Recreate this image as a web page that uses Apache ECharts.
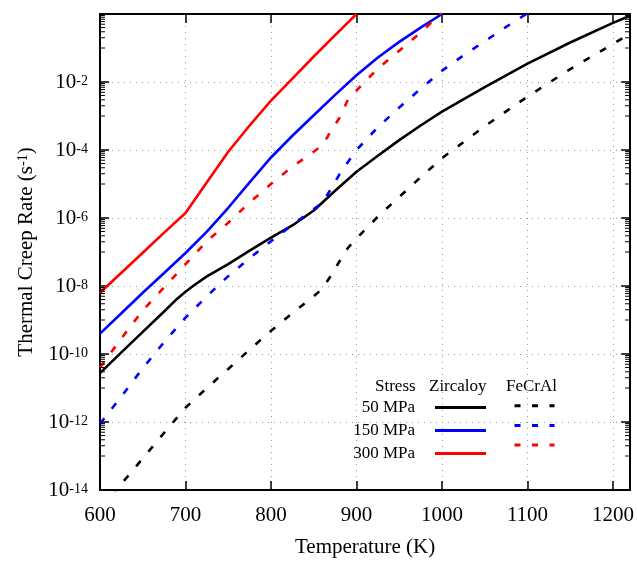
<!DOCTYPE html>
<html>
<head>
<meta charset="utf-8">
<script src="https://cdn.jsdelivr.net/npm/echarts@6/dist/echarts.min.js"></script>
<style>
html,body{margin:0;padding:0;background:#fff;}
#chart{width:637px;height:564px;}
</style>
</head>
<body>
<div id="chart"></div>
<script>
// ---------- data (Temperature in K, creep rate in 1/s) ----------
const tZr50 = [600,625,650,675,690,700,710,725,750,775,800,825,850,875,900,925,950,975,1000,1050,1100,1150,1200,1220];
const rZr50 = [2.75e-11,1.12e-10,4.47e-10,1.78e-9,4.17e-9,6.76e-9,1.05e-8,1.91e-8,4.4e-8,1.1e-7,2.63e-7,6.03e-7,1.66e-6,6.31e-6,2.29e-5,6.76e-5,1.95e-4,5.25e-4,1.35e-3,7.08e-3,3.47e-2,0.145,0.55,0.89];

const tZr150 = [600,625,650,675,700,725,750,775,800,825,850,875,900,925,950,975,1000];
const rZr150 = [3.98e-10,1.58e-9,6.31e-9,2.4e-8,9.33e-8,3.98e-7,2.0e-6,1.12e-5,6.03e-5,2.63e-4,1.05e-3,4.17e-3,1.58e-2,5.25e-2,0.151,0.398,1.0];

const tZr300 = [600,625,650,675,700,725,750,775,800,825,850,875,900];
const rZr300 = [6.31e-9,2.45e-8,9.55e-8,3.72e-7,1.41e-6,1.12e-5,8.91e-5,5.25e-4,2.82e-3,1.26e-2,5.62e-2,0.24,1.0];

const tFe50 = [600,625,650,675,700,725,750,775,800,825,850,860,870,880,890,900,925,950,975,1000,1050,1100,1150,1200,1220];
const rFe50 = [2.51e-15,1.51e-14,8.51e-14,4.79e-13,2.63e-12,1.0e-11,3.63e-11,1.35e-10,4.79e-10,1.58e-9,5.01e-9,8.32e-9,2.0e-8,5.25e-8,1.32e-7,2.51e-7,1.1e-6,4.17e-6,1.58e-5,5.75e-5,5.01e-4,3.72e-3,2.4e-2,0.132,0.263];

const tFe150 = [600,625,650,675,700,725,750,775,800,825,850,860,870,880,890,900,925,950,975,1000,1025,1050,1075,1100];
const rFe150 = [8.91e-13,5.62e-12,3.8e-11,2.24e-10,1.17e-9,5.01e-9,1.95e-8,6.61e-8,2.09e-7,6.31e-7,1.82e-6,2.82e-6,7.08e-6,1.91e-5,4.47e-5,1.0e-4,4.68e-4,1.78e-3,6.31e-3,2.14e-2,6.03e-2,0.158,0.417,1.05];

const tFe300 = [600,625,650,675,700,725,750,775,800,825,850,860,870,880,890,900,925,950,975,1000];
const rFe300 = [3.98e-11,2.88e-10,1.91e-9,9.12e-9,4.37e-8,2.09e-7,7.24e-7,2.88e-6,1.0e-5,3.24e-5,8.91e-5,1.38e-4,3.55e-4,8.71e-4,3.02e-3,5.62e-3,2.51e-2,8.32e-2,0.282,1.12];

// axis decoration: gnuplot-style log minor tick decades and mantissas
const minorTickDecades = [-13,-11,-9,-7,-5,-3,-1];
const minorTickMantissas = [1,2,3,4,5,6,7,8,9];

const stressLabels = ['50 MPa','150 MPa','300 MPa'];
const feNames = ['FeCrAl 50 MPa','FeCrAl 150 MPa','FeCrAl 300 MPa'];
const colors = ['#000000','#0000ff','#ff0000'];

const FONT = 'Liberation Serif';
const zip = (t, r) => t.map((x, i) => [x, r[i]]);

const minorTickData = [];
minorTickDecades.forEach(d => minorTickMantissas.forEach(m => minorTickData.push([600, m * Math.pow(10, d)])));

const LW = 2.6;
const DASH = [7, 12];

function lineSeries(name, data, color, dashed) {
  return {
    name: name,
    type: 'line',
    data: data,
    symbol: 'none',
    smooth: false,
    clip: true,
    xAxisIndex: 0,
    yAxisIndex: 0,
    lineStyle: { color: color, width: LW, type: dashed ? DASH : 'solid' },
    itemStyle: { color: color },
    emphasis: { disabled: true },
    z: 3
  };
}

const chart = echarts.init(document.getElementById('chart'), null, { renderer: 'canvas' });

const yLabelFmt = v => {
  const e = Math.round(Math.log10(v));
  return '{b|10}{s|' + e + '}';
};

const yRich = {
  b: { fontFamily: FONT, fontSize: 21, color: '#000', verticalAlign: 'bottom', lineHeight: 22 },
  s: { fontFamily: FONT, fontSize: 14, color: '#000', verticalAlign: 'bottom', padding: [0, 0, 5, 0], lineHeight: 14 }
};

const option = {
  animation: false,
  backgroundColor: '#ffffff',
  grid: { left: 100, right: 4, top: 14, bottom: 74, containLabel: false },
  xAxis: [
    {
      type: 'value', min: 600, max: 1220, interval: 100, position: 'bottom',
      axisLine: { show: true, onZero: false, lineStyle: { color: '#000', width: 2 } },
      axisTick: { show: true, inside: true, length: 9, lineStyle: { color: '#000', width: 1.5 } },
      axisLabel: { show: true, showMaxLabel: false, margin: 15, fontFamily: FONT, fontSize: 21, color: '#000', formatter: v => String(v) },
      splitLine: { show: true, showMinLine: false, showMaxLine: false, lineStyle: { color: '#9a9a9a', width: 1, type: [1, 5] } },
      name: 'Temperature (K)', nameLocation: 'middle', nameGap: 47,
      nameTextStyle: { fontFamily: FONT, fontSize: 21, color: '#000' }
    },
    {
      type: 'value', min: 600, max: 1220, interval: 100, position: 'top',
      axisLine: { show: true, onZero: false, lineStyle: { color: '#000', width: 2 } },
      axisTick: { show: true, inside: true, length: 9, lineStyle: { color: '#000', width: 1.5 } },
      axisLabel: { show: false },
      splitLine: { show: false }
    }
  ],
  yAxis: [
    {
      type: 'log', logBase: 10, min: 1e-14, max: 1, interval: 2, position: 'left',
      axisLine: { show: true, onZero: false, lineStyle: { color: '#000', width: 2 } },
      axisTick: { show: true, inside: true, length: 9, lineStyle: { color: '#000', width: 1.5 } },
      minorTick: { show: false },
      axisLabel: { show: true, showMaxLabel: false, margin: 12, formatter: yLabelFmt, rich: yRich },
      splitLine: { show: true, showMinLine: false, showMaxLine: false, lineStyle: { color: '#9a9a9a', width: 1, type: [1, 5] } },
      name: 'Thermal Creep Rate (s{s|-1})', nameLocation: 'middle', nameGap: 59,
      nameTextStyle: {
        fontFamily: FONT, fontSize: 21, color: '#000',
        rich: {
          s: { fontFamily: FONT, fontSize: 14, color: '#000', verticalAlign: 'bottom', padding: [0, 0, 7, 0], lineHeight: 14 }
        }
      }
    },
    {
      type: 'log', logBase: 10, min: 1e-14, max: 1, interval: 2, position: 'right',
      axisLine: { show: true, onZero: false, lineStyle: { color: '#000', width: 2 } },
      axisTick: { show: true, inside: true, length: 9, lineStyle: { color: '#000', width: 1.5 } },
      axisLabel: { show: false },
      splitLine: { show: false }
    }
  ],
  legend: [
    {
      data: stressLabels, orient: 'vertical', left: 353, top: 399, padding: 0,
      align: 'right', itemWidth: 51, itemHeight: 17, itemGap: 6, selectedMode: false,
      itemStyle: { opacity: 0 },
      lineStyle: { width: 3 },
      textStyle: { fontFamily: FONT, fontSize: 17, color: '#000', width: 62, align: 'right', lineHeight: 17, padding: [0, 15, 0, 0] }
    },
    {
      data: feNames, orient: 'vertical', left: 513, top: 399, padding: 0,
      align: 'left', itemWidth: 40, itemHeight: 17, itemGap: 6, selectedMode: false,
      itemStyle: { opacity: 0 },
      formatter: () => '',
      lineStyle: { type: [6, 11.5], width: 3 },
      textStyle: { fontFamily: FONT, fontSize: 17, color: '#000', lineHeight: 17 }
    }
  ],
  graphic: [
    { type: 'text', left: 375, top: 378, style: { text: 'Stress', font: '17px "Liberation Serif"', fill: '#000' } },
    { type: 'text', left: 429, top: 378, style: { text: 'Zircaloy', font: '17px "Liberation Serif"', fill: '#000' } },
    { type: 'text', left: 506, top: 378, style: { text: 'FeCrAl', font: '17px "Liberation Serif"', fill: '#000' } }
  ],
  series: [
    lineSeries('50 MPa', zip(tZr50, rZr50), colors[0], false),
    lineSeries('150 MPa', zip(tZr150, rZr150), colors[1], false),
    lineSeries('300 MPa', zip(tZr300, rZr300), colors[2], false),
    lineSeries(feNames[0], zip(tFe50, rFe50), colors[0], true),
    lineSeries(feNames[1], zip(tFe150, rFe150), colors[1], true),
    lineSeries(feNames[2], zip(tFe300, rFe300), colors[2], true),
    {
      name: 'minorTicks', type: 'custom', xAxisIndex: 0, yAxisIndex: 0, clip: false, silent: true, z: 4,
      data: minorTickData,
      encode: { x: 0, y: 1 },
      renderItem: (params, api) => {
        const v = api.value(1);
        const pL = api.coord([600, v]);
        const pR = api.coord([1220, v]);
        return {
          type: 'group',
          children: [
            { type: 'line', shape: { x1: pL[0], y1: pL[1], x2: pL[0] + 5, y2: pL[1] }, style: { stroke: '#000', lineWidth: 1 } },
            { type: 'line', shape: { x1: pR[0], y1: pR[1], x2: pR[0] - 5, y2: pR[1] }, style: { stroke: '#000', lineWidth: 1 } }
          ]
        };
      }
    }
  ]
};

chart.setOption(option);
</script>
</body>
</html>
